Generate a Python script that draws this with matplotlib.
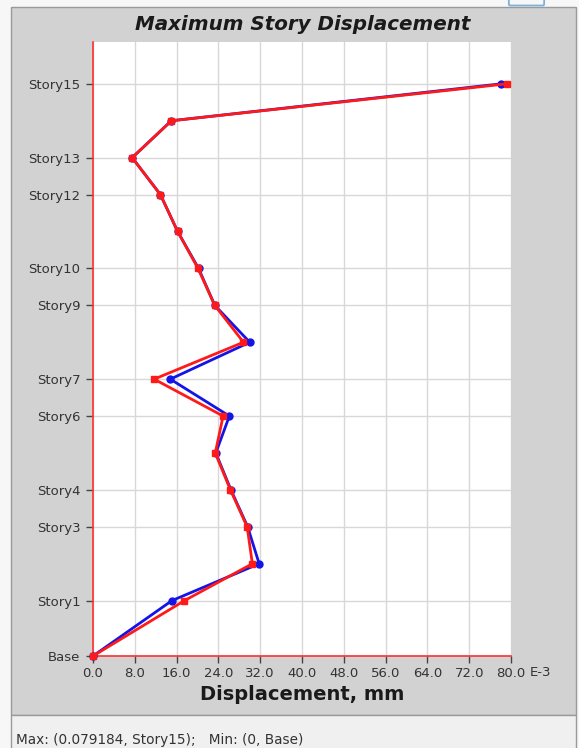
import matplotlib.pyplot as plt
from matplotlib.patches import Rectangle, FancyBboxPatch

plt.rcParams['font.family'] = ['DejaVu Sans']

# story names and elevations (m)
stories = ["Base", "Story1", "Story2", "Story3", "Story4", "Story5", "Story6", "Story7",
           "Story8", "Story9", "Story10", "Story11", "Story12", "Story13", "Story14", "Story15"]
elev = [0.0, 4.5, 7.5, 10.5, 13.5, 16.5, 19.5, 22.5, 25.5, 28.5, 31.5, 34.5, 37.5, 40.5, 43.5, 46.5]

# max displacement per story, x 1E-3
disp_x = [0.0, 15.1, 31.8, 29.6, 26.4, 23.5, 26.1, 14.8, 30.0, 23.3, 20.2, 16.2, 12.9, 7.5, 15.0, 78.1]
disp_y = [0.0, 17.5, 30.5, 29.5, 26.3, 23.4, 24.9, 11.7, 28.8, 23.3, 20.1, 16.2, 12.9, 7.5, 15.0, 79.184]

# only these names get a tick (others would overlap)
shown = ["Base", "Story1", "Story3", "Story4", "Story6", "Story7", "Story9",
         "Story10", "Story12", "Story13", "Story15"]

xticks = [0, 8, 16, 24, 32, 40, 48, 56, 64, 72, 80]

W, H = 579, 748
fig = plt.figure(figsize=(W / 100, H / 100), dpi=100)
fig.patch.set_facecolor('#f7f7f7')


def fx(px):
    return px / W


def fy(py):
    return 1 - py / H


# gray chart panel + status strip
fig.patches.append(Rectangle((fx(11), fy(715)), fx(576) - fx(11), fy(7) - fy(715),
                             transform=fig.transFigure, facecolor='#d2d2d2',
                             edgecolor='#9a9a9a', linewidth=1, zorder=0))
fig.patches.append(Rectangle((fx(11), fy(749)), fx(576) - fx(11), fy(715) - fy(749),
                             transform=fig.transFigure, facecolor='#f0f0f0',
                             edgecolor='#9a9a9a', linewidth=1, zorder=0))
fig.patches.append(FancyBboxPatch((fx(510), fy(4)), fx(33), fy(-4) - fy(4),
                                  boxstyle='round,pad=0.002', transform=fig.transFigure,
                                  facecolor='none', edgecolor='#7fb0d8', linewidth=1.3))

ax = fig.add_axes([fx(93), fy(656), fx(511) - fx(93), fy(42) - fy(656)])
ax.set_zorder(2)
ax.set_facecolor('white')

ax.plot(disp_x, elev, color='#1414e6', linewidth=2, marker='o', markersize=5,
        clip_on=False, zorder=3)
ax.plot(disp_y, elev, color='#ff1a1a', linewidth=2, marker='s', markersize=5,
        clip_on=False, zorder=4)

ax.set_xlim(0, 80)
ax.set_ylim(0, 49.9)

ax.set_xticks(xticks)
ax.set_xticklabels(["%.1f" % v for v in xticks])
ticks_y = [elev[stories.index(s)] for s in shown]
ax.set_yticks(ticks_y)
ax.set_yticklabels(shown)

ax.grid(True, color='#d8d8d8', linewidth=1)
ax.set_axisbelow(True)
ax.tick_params(axis='both', colors='#444444', labelcolor='#333333', labelsize=9.5,
               length=5, width=1)
ax.tick_params(axis='x', pad=3)
ax.tick_params(axis='y', pad=4)

for side in ['top', 'right']:
    ax.spines[side].set_visible(False)
ax.spines['left'].set_color('#ff3030')
ax.spines['bottom'].set_color('#ff3030')
ax.spines['left'].set_linewidth(1.2)
ax.spines['bottom'].set_linewidth(1.2)

fig.text(fx(530), fy(673), "E-3", fontsize=9.5, color='#333333', ha='left', va='center')

fig.text(fx(303), fy(24), "Maximum Story Displacement", fontsize=14.3, fontweight='bold',
         fontstyle='italic', color='#1a1a1a', ha='center', va='center')
fig.text(fx(302), fy(695), "Displacement, mm", fontsize=14, fontweight='bold',
         color='#1a1a1a', ha='center', va='center')
fig.text(fx(16), fy(740), "Max: (0.079184, Story15);   Min: (0, Base)", fontsize=9.8,
         color='#333333', ha='left', va='center')

fig.savefig('out.png', dpi=100, facecolor=fig.get_facecolor())
